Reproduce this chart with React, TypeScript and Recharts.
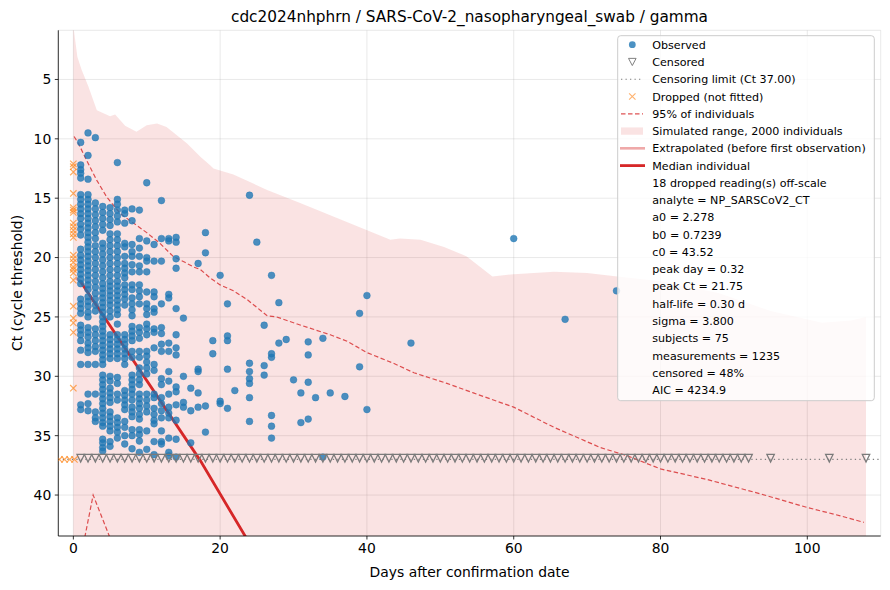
import React from 'react';
import { ComposedChart, Area, Line, Scatter, XAxis, YAxis, CartesianGrid, ReferenceLine } from 'recharts';

const W = 890;
const H = 590;
const FONT = 'DejaVu Sans, Verdana, sans-serif';
const X_DOMAIN: [number, number] = [-2.05, 110];
const Y_DOMAIN: [number, number] = [0.86, 43.45];
const xTicks = [0, 20, 40, 60, 80, 100];
const yTicks = [5, 10, 15, 20, 25, 30, 35, 40];
const CENSOR_CT = 37;

// Simulated range (2000 individuals): upper edge (low Ct); lower edge is off-scale
const simDays = [0, 0.55, 1.14, 2.05, 3.2, 5, 5.7, 7.05, 8.6, 10, 11.4, 12.7, 15.5, 17.3, 18.6, 19.1, 21.8, 26.4, 30.9, 43.2, 44.5, 47.3, 50.5, 53.6, 57.1, 60, 65.5, 70, 74.1, 80, 88, 95, 102, 106, 108];
const simTop = [0.5, 3.1, 4.2, 5.6, 7.6, 8.1, 7.95, 8.9, 9.4, 8.85, 8.7, 9.0, 10.4, 11.5, 12.2, 12.5, 13.0, 14.3, 15.4, 18.5, 18.4, 18.5, 19.1, 19.9, 21.6, 21.4, 21.2, 21.3, 21.6, 22.0, 23.0, 24.5, 25.5, 25.3, 25.0];
const SIM_BOTTOM = 50;

// 95% of individuals: upper dashed band edge
const p95LowDays = [0.1, 0.7, 1.8, 3.2, 4.55, 6.4, 8.2, 10, 11.8, 13.6, 15.2, 16.4, 17.3, 18.6, 20, 21.8, 23.6, 26.4, 27.7, 30.5, 35, 37.3, 38.6, 40, 43.6, 46.4, 50.9, 54.5, 60, 65.5, 71.8, 75.5, 80, 86.4, 93.6, 100, 104.5, 107.7];
const p95LowCt = [9.8, 10.4, 11.8, 13.5, 14.9, 16.3, 17.1, 17.9, 18.8, 19.9, 20.4, 20.8, 21.0, 21.7, 22.3, 22.8, 23.5, 24.9, 25.0, 25.6, 26.5, 27.05, 27.5, 28.0, 28.9, 29.7, 30.6, 31.4, 32.6, 34.3, 36.0, 36.7, 37.8, 38.7, 39.9, 41.05, 41.75, 42.3];
// 95% of individuals: lower dashed band edge (mostly off-scale)
const p95HighDays = [1.0, 2.7, 4.8, 7.0];
const p95HighCt = [45.3, 40.0, 43.3, 46.8];

// Median individual
const extrapDays = [0.32, 0.9];
const extrapCt = [21.75, 21.95];
const medianDays = [0.9, 17.3, 23.4, 25];
const medianCt = [21.95, 37.1, 43.45, 45.1];

// Observed Ct by day
const obsDay1 = [10.3, 12.2, 12.6, 12.9, 13.3, 14.7, 15.1, 15.5, 15.9, 16.3, 16.7, 17.2, 17.6, 18.1, 19.3, 19.8, 20.2, 20.6, 21.0, 21.4, 21.8, 22.2, 23.5, 23.9, 24.3, 24.7, 25.7, 26.1, 26.5, 27.0, 27.8, 29.0, 32.4, 32.8];
const obsDay2 = [9.5, 11.4, 13.4, 14.7, 15.1, 15.5, 15.9, 16.3, 16.7, 17.1, 17.5, 17.9, 18.3, 18.7, 19.1, 19.5, 19.9, 20.3, 20.7, 21.1, 21.5, 21.9, 22.3, 22.7, 23.3, 23.7, 24.1, 24.6, 25.0, 25.9, 26.3, 26.7, 27.2, 27.6, 28.0, 29.0, 31.5, 32.3, 32.9];
const obsDay3 = [9.9, 15.4, 15.9, 16.4, 16.9, 17.4, 17.9, 18.4, 19.0, 19.5, 20.0, 20.5, 21.0, 21.5, 22.0, 22.5, 23.0, 23.5, 24.0, 24.5, 26.0, 26.5, 27.0, 27.5, 27.9, 29.0, 31.5, 33.0, 33.5, 33.8];
const obsDay4 = [15.7, 16.2, 16.7, 17.2, 17.7, 18.8, 19.2, 19.7, 20.2, 20.7, 21.2, 21.7, 22.2, 22.6, 23.0, 23.4, 23.8, 24.2, 24.6, 25.0, 25.4, 25.8, 26.2, 26.6, 27.0, 27.4, 27.8, 28.2, 28.6, 29.0, 29.9, 30.3, 30.7, 31.1, 31.5, 31.9, 32.3, 32.7, 33.1, 33.5, 33.9, 34.2, 35.3, 35.6, 36.0, 36.3];
const obsDay5 = [15.8, 16.3, 16.8, 17.3, 18.0, 18.5, 19.0, 19.5, 20.0, 20.5, 21.0, 21.5, 22.0, 22.4, 22.8, 23.2, 23.6, 24.0, 24.5, 25.0, 26.5, 26.9, 27.3, 27.7, 28.1, 28.5, 30.0, 30.4, 31.0, 31.4, 31.8, 32.2, 33.0, 33.4, 33.8, 34.2, 34.6, 35.5, 35.9];
const obsDay6 = [12.0, 15.1, 15.5, 16.0, 16.5, 17.0, 18.0, 18.5, 19.0, 19.5, 20.0, 20.5, 21.0, 21.5, 22.0, 22.4, 22.8, 23.2, 23.6, 24.0, 24.4, 24.8, 25.6, 26.5, 26.9, 27.3, 27.7, 28.1, 28.5, 30.1, 30.6, 31.5, 32.0, 33.5, 33.9, 34.3, 34.7, 35.2];
const obsDay7 = [16.0, 16.3, 17.1, 18.8, 19.1, 19.9, 20.5, 20.9, 21.3, 21.7, 22.3, 22.7, 23.1, 23.5, 24.0, 26.5, 26.9, 27.3, 27.7, 28.1, 28.5, 29.0, 31.2, 31.6, 32.0, 32.4, 32.8, 33.8, 34.3, 35.0, 35.7];
const obsDay8 = [15.9, 16.9, 18.9, 19.5, 19.9, 20.6, 21.2, 22.3, 22.7, 23.4, 23.9, 24.4, 24.9, 25.8, 26.2, 26.6, 27.0, 27.9, 28.4, 29.9, 30.3, 30.7, 31.1, 31.5, 32.0, 32.6, 33.0, 33.4, 34.5, 35.0, 36.1];
const obsDay9 = [16.0, 18.4, 19.2, 19.9, 20.7, 21.2, 22.3, 22.8, 23.3, 23.9, 25.9, 26.3, 26.8, 27.9, 28.4, 29.3, 29.8, 30.3, 30.7, 31.5, 31.9, 32.3, 32.7, 33.2, 33.6, 34.5, 34.9, 35.45, 36.4];
const obsDay10 = [13.7, 18.6, 20.0, 20.3, 21.2, 22.9, 23.9, 24.3, 24.8, 25.6, 26.0, 26.5, 27.9, 28.3, 28.8, 29.3, 29.8, 31.5, 32.0, 32.5, 33.0, 34.6, 36.15];
const obsDay11 = [18.9, 20.3, 22.9, 23.3, 24.3, 24.6, 26.0, 26.3, 27.6, 29.0, 29.5, 31.5, 31.8, 32.7, 33.2, 33.7, 34.0, 35.5, 36.6];
const obsDay12 = [15.2, 18.4, 20.3, 23.9, 25.9, 26.4, 27.3, 27.9, 30.2, 30.7, 31.8, 32.3, 32.9, 33.5, 34.6, 35.5, 35.7];
const obsDay13 = [18.4, 18.6, 23.1, 23.4, 27.2, 27.9, 29.6, 30.4, 31.5, 32.6, 33.1, 33.5, 35.2, 36.4, 36.7];
const obsDay14 = [18.3, 18.7, 20.1, 20.9, 24.3, 26.5, 27.6, 28.2, 30.9, 31.3, 32.4, 33.7, 35.3, 36.8];
const obsByDay = [obsDay1, obsDay2, obsDay3, obsDay4, obsDay5, obsDay6, obsDay7, obsDay8, obsDay9, obsDay10, obsDay11, obsDay12, obsDay13, obsDay14];

// Later, sparser observations [day, Ct]
const obsLate: [number, number][] = [
  [15, 25.1], [15, 30.0], [15, 32.2], [15, 32.6],
  [16, 31.0], [16, 32.9], [16, 35.6],
  [17, 20.5], [17, 29.4], [17, 29.6], [17, 31.4], [17, 32.6],
  [18, 17.9], [18, 19.6], [18, 32.5], [18, 34.7],
  [19, 27.0], [19, 28.1],
  [20, 21.5], [20, 32.1], [20, 32.3],
  [21, 23.9], [21, 26.6], [21, 27.0], [21, 29.4], [21, 32.7],
  [22, 31.2],
  [24, 14.75], [24, 28.9], [24, 29.6], [24, 30.2], [24, 30.6], [24, 31.8], [24, 33.8],
  [25, 18.7],
  [26, 25.7], [26, 29.1], [26, 29.9],
  [27, 21.5], [27, 28.1], [27, 28.4], [27, 33.3], [27, 34.2], [27, 35.2],
  [28, 23.8], [28, 27.2],
  [29, 26.9],
  [30, 30.3],
  [31, 31.4], [31, 33.9],
  [32, 27.1], [32, 28.2], [32, 30.5], [32, 33.6],
  [33, 31.8],
  [34, 26.8], [34, 36.8],
  [35, 31.4],
  [37, 31.7],
  [39, 24.7], [39, 29.2],
  [40, 23.2], [40, 32.8],
  [46, 27.2],
  [60, 18.4], [67, 25.2], [74, 22.8],
];

// Censored (at limit) days
const censoredDays = [
  1, 2, 3, 4, 5, 6, 7, 8, 9, 10, 11, 12, 13, 14, 15, 16, 17, 18, 19, 20,
  21, 22, 23, 24, 25, 26, 27, 28, 29, 30, 31, 32, 33, 34, 35, 36, 37, 38, 39, 40,
  41, 42, 43, 44, 45, 46, 47, 48, 49, 50, 51, 52, 53, 54, 55, 56, 57, 58, 59, 60,
  61, 62, 63, 64, 65, 66, 67, 68, 69, 70, 71, 72, 73, 74, 75, 76, 77, 78, 79, 80,
  81, 82, 83, 84, 85, 86, 87, 88, 89, 90, 91, 92, 95, 103, 108,
];

// Dropped (not fitted) readings
const droppedDay0Ct = [12.1, 12.35, 12.8, 14.6, 15.8, 16.0, 16.2, 17.1, 17.4, 17.7, 18.0, 18.3, 19.8, 20.1, 20.4, 20.8, 21.0, 21.3, 21.9, 24.1, 25.1, 25.5, 26.3, 31.0];
const droppedAtLimitDays = [-1.9, -1.2, -0.5, 0.15];

const legendRows = [
  'Observed',
  'Censored',
  'Censoring limit (Ct 37.00)',
  'Dropped (not fitted)',
  '95% of individuals',
  'Simulated range, 2000 individuals',
  'Extrapolated (before first observation)',
  'Median individual',
  '18 dropped reading(s) off-scale',
  'analyte = NP_SARSCoV2_CT',
  'a0 = 2.278',
  'b0 = 0.7239',
  'c0 = 43.52',
  'peak day = 0.32',
  'peak Ct = 21.75',
  'half-life = 0.30 d',
  'sigma = 3.800',
  'subjects = 75',
  'measurements = 1235',
  'censored = 48%',
  'AIC = 4234.9',
];

const RED = '#d62728';
const BLUE = '#1f77b4';
const ORANGE = '#ff7f0e';
const GRAY = '#808080';

const simData = simDays.map((d, i) => ({ day: d, top: simTop[i], bottom: SIM_BOTTOM }));
const p95LowData = p95LowDays.map((d, i) => ({ day: d, ct: p95LowCt[i] }));
const p95HighData = p95HighDays.map((d, i) => ({ day: d, ct: p95HighCt[i] }));
const extrapData = extrapDays.map((d, i) => ({ day: d, ct: extrapCt[i] }));
const medianData = medianDays.map((d, i) => ({ day: d, ct: medianCt[i] }));
const observedData = [
  ...obsByDay.flatMap((arr, i) => arr.map((ct) => ({ day: i + 1, ct }))),
  ...obsLate.map(([day, ct]) => ({ day, ct })),
];
const censoredData = censoredDays.map((d) => ({ day: d, ct: CENSOR_CT }));
const droppedData = [
  ...droppedDay0Ct.map((ct) => ({ day: 0, ct })),
  ...droppedAtLimitDays.map((d) => ({ day: d, ct: CENSOR_CT })),
];

const Dot = (p: any) => {
  if (p.cx == null || p.cy == null) return <g />;
  return <circle cx={p.cx} cy={p.cy} r={3.4} fill={BLUE} fillOpacity={0.8} stroke={BLUE} strokeOpacity={0.8} strokeWidth={0.5} />;
};
const Tri = (p: any) => {
  if (p.cx == null || p.cy == null) return <g />;
  const { cx, cy } = p;
  return <path d={`M${cx - 3.7},${cy - 5} L${cx + 3.7},${cy - 5} L${cx},${cy + 2.6} Z`} fill="none" stroke="#7a7a7a" strokeWidth={1.3} strokeLinejoin="miter" />;
};
const Cross = (p: any) => {
  if (p.cx == null || p.cy == null) return <g />;
  const { cx, cy } = p;
  const s = 3.2;
  return (
    <path d={`M${cx - s},${cy - s} L${cx + s},${cy + s} M${cx - s},${cy + s} L${cx + s},${cy - s}`} stroke={ORANGE} strokeOpacity={0.65} strokeWidth={1.2} fill="none" />
  );
};

const tickStyle = { fill: '#000', fontSize: 13.9, fontFamily: FONT };

function LegendHandle({ i, y }: { i: number; y: number }) {
  const cx = 632.3;
  switch (i) {
    case 0:
      return <circle cx={cx} cy={y} r={3.4} fill={BLUE} fillOpacity={0.8} />;
    case 1:
      return <path d={`M${cx - 3.8},${y - 3.6} L${cx + 3.8},${y - 3.6} L${cx},${y + 3.6} Z`} fill="none" stroke={GRAY} strokeWidth={1} />;
    case 2:
      return <line x1={621} x2={643} y1={y} y2={y} stroke={GRAY} strokeWidth={1.2} strokeDasharray="1.3 3.2" />;
    case 3:
      return <path d={`M${cx - 3.2},${y - 3.2} L${cx + 3.2},${y + 3.2} M${cx - 3.2},${y + 3.2} L${cx + 3.2},${y - 3.2}`} stroke={ORANGE} strokeOpacity={0.6} strokeWidth={1.1} />;
    case 4:
      return <line x1={621} x2={643} y1={y} y2={y} stroke={RED} strokeOpacity={0.8} strokeWidth={1.2} strokeDasharray="4.5 2.5" />;
    case 5:
      return <rect x={621} y={y - 3.6} width={22} height={7.3} fill={RED} fillOpacity={0.13} />;
    case 6:
      return <line x1={620} x2={645} y1={y} y2={y} stroke={RED} strokeOpacity={0.4} strokeWidth={2.6} />;
    case 7:
      return <line x1={620} x2={645} y1={y} y2={y} stroke={RED} strokeWidth={2.8} />;
    default:
      return null;
  }
}

function Overlay() {
  const rowY0 = 44.7;
  const rowStep = 17.27;
  return (
    <svg width={W} height={H} style={{ position: 'absolute', left: 0, top: 0, pointerEvents: 'none' }}>
      <text x={469.5} y={22} textAnchor="middle" fontFamily={FONT} fontSize={15.3} fill="#000">
        cdc2024nhphrn / SARS-CoV-2_nasopharyngeal_swab / gamma
      </text>
      <text x={469.5} y={577} textAnchor="middle" fontFamily={FONT} fontSize={13.9} fill="#000">
        Days after confirmation date
      </text>
      <text x={21.5} y={283} textAnchor="middle" fontFamily={FONT} fontSize={13.9} fill="#000" transform="rotate(-90 21.5 283)">
        Ct (cycle threshold)
      </text>
      <rect x={617.7} y={35.7} width={256.6} height={365} rx={3} fill="#fff" fillOpacity={0.8} stroke="#cccccc" strokeWidth={1} />
      {legendRows.map((label, i) => {
        const y = rowY0 + i * rowStep;
        return (
          <g key={i}>
            <LegendHandle i={i} y={y} />
            <text x={652.3} y={y + 4} fontFamily={FONT} fontSize={11.1} fill="#000">
              {label}
            </text>
          </g>
        );
      })}
    </svg>
  );
}

export default function App() {
  return (
    <div style={{ position: 'absolute', left: 0, top: 0, width: W, height: H, background: '#fff' }}>
      <ComposedChart width={W} height={H} data={simData} margin={{ top: 30.3, right: 9.3, bottom: 24, left: 8.3 }}>
        <CartesianGrid stroke="#b0b0b0" strokeOpacity={0.35} strokeWidth={0.8} />
        <XAxis
          dataKey="day"
          type="number"
          domain={X_DOMAIN}
          ticks={xTicks}
          allowDataOverflow
          height={30}
          tick={tickStyle}
          tickSize={3.5}
          tickMargin={3.5}
          tickLine={{ stroke: '#000', strokeWidth: 0.8 }}
          axisLine={{ stroke: '#000', strokeWidth: 0.8 }}
        />
        <XAxis xAxisId="top" orientation="top" type="number" domain={X_DOMAIN} allowDataOverflow height={0} tick={false} tickLine={false} axisLine={{ stroke: '#000', strokeWidth: 0.8 }} />
        <YAxis
          dataKey="ct"
          type="number"
          domain={Y_DOMAIN}
          ticks={yTicks}
          reversed
          allowDataOverflow
          width={50}
          tick={tickStyle}
          tickSize={3.5}
          tickMargin={3.5}
          tickLine={{ stroke: '#000', strokeWidth: 0.8 }}
          axisLine={{ stroke: '#000', strokeWidth: 0.8 }}
        />
        <YAxis yAxisId="right" orientation="right" type="number" domain={Y_DOMAIN} reversed allowDataOverflow width={0} tick={false} tickLine={false} axisLine={{ stroke: '#000', strokeWidth: 0.8 }} />
        <Area
          type="linear"
          dataKey={(d: any) => [d.top, d.bottom]}
          stroke="none"
          fill={RED}
          fillOpacity={0.13}
          isAnimationActive={false}
          dot={false}
          activeDot={false}
        />
        <Line data={p95LowData} dataKey="ct" type="linear" stroke={RED} strokeOpacity={0.8} strokeWidth={1.2} strokeDasharray="4.5 2.5" dot={false} activeDot={false} isAnimationActive={false} />
        <Line data={p95HighData} dataKey="ct" type="linear" stroke={RED} strokeOpacity={0.8} strokeWidth={1.2} strokeDasharray="4.5 2.5" dot={false} activeDot={false} isAnimationActive={false} />
        <ReferenceLine y={CENSOR_CT} stroke={GRAY} strokeWidth={1.2} strokeDasharray="1.3 3.2" />
        <Scatter data={observedData} dataKey="ct" shape={Dot} isAnimationActive={false} />
        <Scatter data={censoredData} dataKey="ct" shape={Tri} isAnimationActive={false} />
        <Scatter data={droppedData} dataKey="ct" shape={Cross} isAnimationActive={false} />
        <Line data={extrapData} dataKey="ct" type="linear" stroke={RED} strokeOpacity={0.4} strokeWidth={2.6} dot={false} activeDot={false} isAnimationActive={false} />
        <Line data={medianData} dataKey="ct" type="linear" stroke={RED} strokeWidth={2.8} dot={false} activeDot={false} isAnimationActive={false} />
      </ComposedChart>
      <Overlay />
    </div>
  );
}
